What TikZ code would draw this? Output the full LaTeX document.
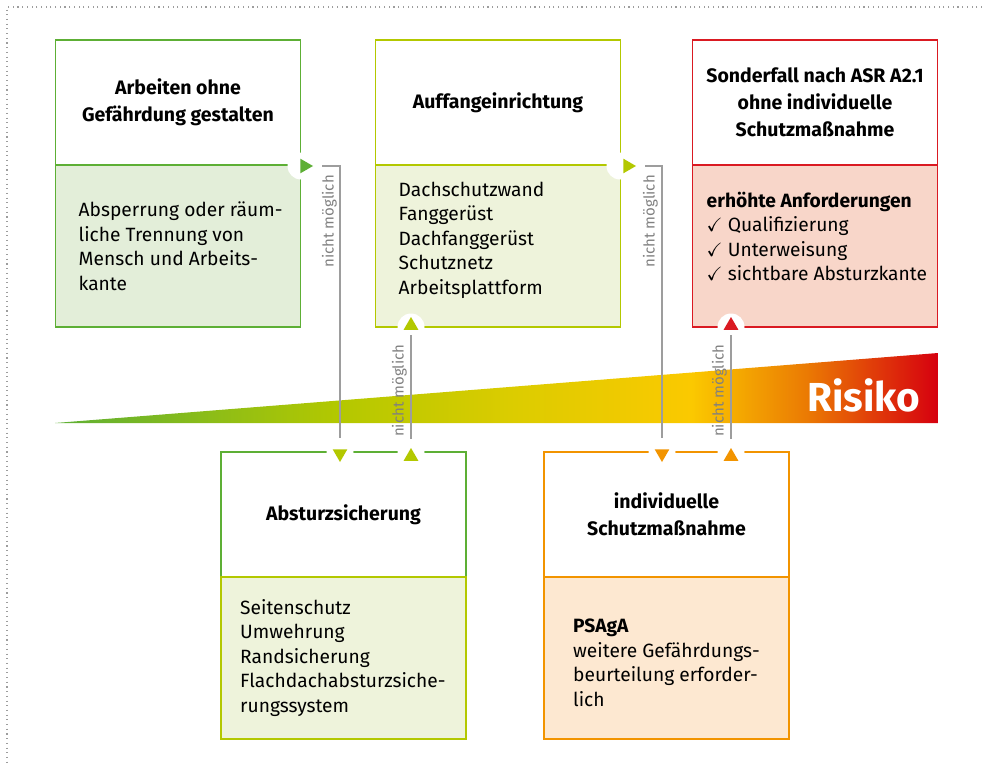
\documentclass[tikz,border=0pt]{standalone}
\usepackage{amssymb}
\usepackage{fontspec}
\setmainfont{Fira Sans}
\usetikzlibrary{positioning,shapes.geometric}
\definecolor{cGreen}{HTML}{5DAF35}
\definecolor{cGreenFill}{HTML}{E3EED9}
\definecolor{cLime}{HTML}{B3C800}
\definecolor{cLimeFill}{HTML}{EEF3DB}
\definecolor{cRed}{HTML}{DA1A22}
\definecolor{cRedFill}{HTML}{F8D6C9}
\definecolor{cOrange}{HTML}{F29400}
\definecolor{cOrangeFill}{HTML}{FDE8D1}
\definecolor{cGrayLine}{HTML}{9D9D9D}
\definecolor{cGrayText}{HTML}{808080}
\definecolor{rYellow}{HTML}{DCCC00}
\definecolor{rGold}{HTML}{FBC900}
\definecolor{rOrange}{HTML}{EB7B03}
\definecolor{rRed}{HTML}{D6000F}
\pgfdeclarehorizontalshading{risiko}{100bp}{color(0bp)=(cGreen); color(25bp)=(cGreen);
  color(41bp)=(cLime); color(51bp)=(rYellow); color(61bp)=(rGold);
  color(67.5bp)=(rOrange); color(75bp)=(rRed); color(100bp)=(rRed)}
\begin{document}
\begin{tikzpicture}[x=1pt,y=-1pt,
    headBox/.style={draw=#1,line width=1.5pt,fill=white,minimum width=245pt,minimum height=125pt,
      outer sep=0pt,align=center,font=\fontsize{19.5}{27}\selectfont\bfseries},
    bodyBox/.style 2 args={draw=#1,fill=#2,line width=1.5pt,minimum width=245pt,minimum height=162pt,outer sep=0pt},
    bodyText/.style={align=left,anchor=west,inner sep=0pt,font=\fontsize{19.2}{24.5}\selectfont},
    hole/.style={circle,fill=white,minimum size=27pt,inner sep=0pt},
    tip/.style={regular polygon,regular polygon sides=3,fill=#1,minimum size=17pt,inner sep=0pt},
    nmLine/.style={draw=cGrayLine,line width=1.2pt},
    nmText/.style={rotate=90,text=cGrayText,inner sep=0pt,font=\fontsize{15}{15}\selectfont},
    frame/.style={draw=cGrayLine,line width=1.1pt,dash pattern=on 1.1pt off 3.6pt}]
  \useasboundingbox (0,0) rectangle (982,765);
  \draw[frame] (982,7) -- (7,7) -- (7,765);

  % obere Reihe
  \node[headBox=cGreen] (b1head) at (178,102.5) {Arbeiten ohne\\Gefährdung gestalten};
  \node[bodyBox={cGreen}{cGreenFill},below=0pt of b1head] (b1body) {};
  \node[bodyText] (b1text) at ([xshift=23pt]b1body.west)
    {Absperrung oder räum-\\liche Trennung von\\Mensch und Arbeits-\\kante};

  \node[headBox=cLime] (b2head) at (498,102.5) {Auffangeinrichtung};
  \node[bodyBox={cLime}{cLimeFill},below=0pt of b2head] (b2body) {};
  \node[bodyText] (b2text) at ([xshift=23pt,yshift=6pt]b2body.west)
    {Dachschutzwand\\Fanggerüst\\Dachfanggerüst\\Schutznetz\\Arbeitsplattform};

  \node[headBox=cRed] (b3head) at (815,102.5) {Sonderfall nach ASR A2.1\\ohne individuelle\\Schutzmaßnahme};
  \node[bodyBox={cRed}{cRedFill},below=0pt of b3head] (b3body) {};
  \node[bodyText] (b3text) at ([xshift=14pt,yshift=9.5pt]b3body.west)
    {\textbf{erhöhte Anforderungen}\\$\checkmark$ Qualifizierung\\$\checkmark$ Unterweisung\\$\checkmark$ sichtbare Absturzkante};

  % untere Reihe
  \node[headBox=cGreen] (b4head) at (343.5,514.5) {Absturzsicherung};
  \node[bodyBox={cLime}{cLimeFill},below=0pt of b4head] (b4body) {};
  \node[bodyText] (b4text) at ([xshift=19pt]b4body.west)
    {Seitenschutz\\Umwehrung\\Randsicherung\\Flachdachabsturzsiche-\\rungssystem};

  \node[headBox=cOrange] (b5head) at (666.5,514.5) {individuelle\\Schutzmaßnahme};
  \node[bodyBox={cOrange}{cOrangeFill},below=0pt of b5head] (b5body) {};
  \node[bodyText] (b5text) at ([xshift=29pt,yshift=-5pt]b5body.west)
    {\textbf{PSAgA}\\weitere Gefährdungs-\\beurteilung erforder-\\lich};

  % Risikokeil
  \coordinate (wedgeTip) at (55,423);
  \coordinate (wedgeTop) at (938,353);
  \coordinate (wedgeBase) at (938,423);
  \shade[shading=risiko] (wedgeTip) -- (wedgeTop) -- (wedgeBase) -- cycle;
  \node[text=white,font=\fontsize{40.5}{40.5}\selectfont\bfseries] (risk) at (864,395) {Risiko};

  % Aussparungen und Pfeilspitzen
  \node[hole] (h1) at (301,166) {};
  \node[hole] (h2) at (620,166) {};
  \node[hole] (h3) at (411,327) {};
  \node[hole] (h4) at (731,327) {};
  \node[hole] (h5) at (340,452) {};
  \node[hole] (h6) at (411,452) {};
  \node[hole] (h7) at (662,452) {};
  \node[hole] (h8) at (731,452) {};
  \node[tip=cGreen,shape border rotate=-90] (t1out) at (304.5,166) {};
  \node[tip=cLime,shape border rotate=-90] (t2out) at (627.5,166) {};
  \node[tip=cLime] (t2in) at (411,325.5) {};
  \node[tip=cRed] (t3in) at (731,325.5) {};
  \node[tip=cLime,shape border rotate=180] (t4in) at (340,453.5) {};
  \node[tip=cLime] (t4out) at (411,456.5) {};
  \node[tip=cOrange,shape border rotate=180] (t5in) at (662,453.5) {};
  \node[tip=cOrange] (t5out) at (731,456.5) {};

  % Verbindungen "nicht möglich"
  \draw[nmLine,shorten <=17.5pt,shorten >=15.5pt] (t1out.center) -| (t4in.center);
  \draw[nmLine,shorten <=18pt,shorten >=9.5pt] (t4out.center) -- (t2in.center);
  \draw[nmLine,shorten <=17.5pt,shorten >=15.5pt] (t2out.center) -| (t5in.center);
  \draw[nmLine,shorten <=18pt,shorten >=9.5pt] (t5out.center) -- (t3in.center);
  \node[nmText,anchor=south east] (nm1) at (337,175) {nicht möglich};
  \node[nmText,anchor=south west] (nm2) at (407,437) {nicht möglich};
  \node[nmText,anchor=south east] (nm3) at (658,175) {nicht möglich};
  \node[nmText,anchor=south west] (nm4) at (727,437) {nicht möglich};
\end{tikzpicture}
\end{document}
